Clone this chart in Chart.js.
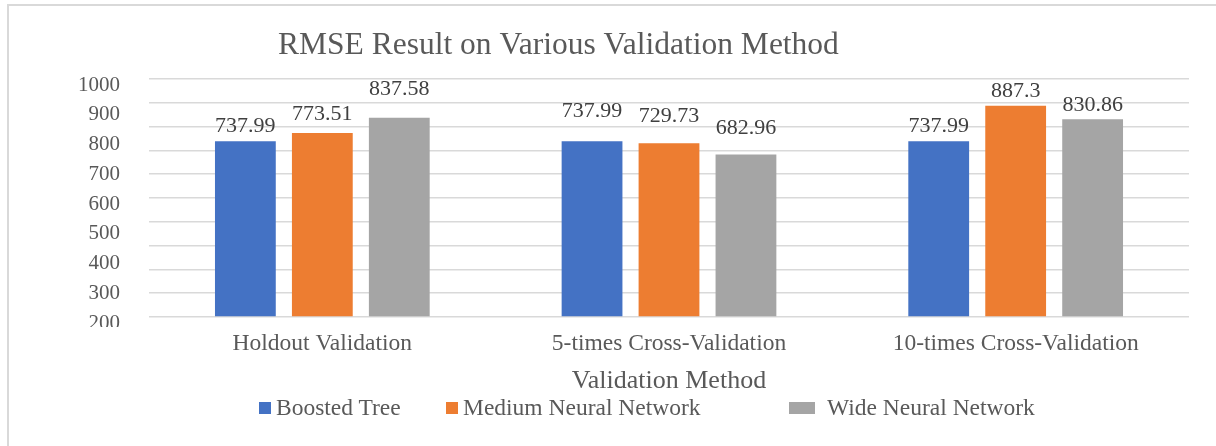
<!DOCTYPE html>
<html>
<head>
<meta charset="utf-8">
<title>RMSE Result on Various Validation Method</title>
<script src="https://cdn.jsdelivr.net/npm/chart.js@4.4.1/dist/chart.umd.min.js"></script>
<style>
    html, body { margin: 0; padding: 0; background: #fff; overflow: hidden; }
    #frame { position: absolute; left: 7px; top: 4px; width: 1400px; height: 600px; border: 2px solid #d9d9d9; }
    #rmse { position: absolute; left: 0; top: 0; }
    #legend { position: absolute; left: 0; top: 394px; width: 1216px; height: 30px; }
    #legend .item { position: absolute; top: 0; height: 30px; line-height: 30px; white-space: nowrap;
        font: 23.5px 'Liberation Serif', 'Times New Roman', serif; color: #595959; }
    #legend .box { display: inline-block; height: 12px; vertical-align: middle; position: relative; top: -2px; }
</style>
</head>
<body>
<div id="frame"></div>
<canvas id="rmse" width="1216" height="446"></canvas>
<div id="legend"></div>
<script>
// chart values
var methods = ['Holdout Validation', '5-times Cross-Validation', '10-times Cross-Validation'];
var boostedTree = [737.99, 737.99, 737.99];
var mediumNeural = [773.51, 729.73, 887.3];
var wideNeural = [837.58, 682.96, 830.86];
var leftAxisLabels = [200, 300, 400, 500, 600, 700, 800, 900, 1000];

// label lift above each bar (px), per dataset
var labelLift = [[9, 24, 9], [13, 21, 9], [23, 20, 8]];
// legend placement, one entry per dataset
var legendLeft = [259, 446, 789];
var legendBoxWidth = [12, 12, 26];
var legendGap = [5, 5, 12];

var SERIF = "'Liberation Serif', 'Times New Roman', serif";
Chart.defaults.color = '#595959';
Chart.defaults.font.family = SERIF;

// values printed above the bars
var valueLabels = {
    id: 'valueLabels',
    afterDatasetsDraw: function(chart) {
        var ctx = chart.ctx;
        ctx.save();
        ctx.font = '22px ' + SERIF;
        ctx.fillStyle = '#404040';
        ctx.textAlign = 'center';
        ctx.textBaseline = 'alphabetic';
        chart.data.datasets.forEach(function(ds, i) {
            chart.getDatasetMeta(i).data.forEach(function(bar, j) {
                ctx.fillText(String(ds.data[j]), bar.x, bar.y - labelLift[i][j]);
            });
        });
        ctx.restore();
    }
};

// chart title sits left of centre in the original
var offsetTitle = {
    id: 'offsetTitle',
    afterDraw: function(chart) {
        var ctx = chart.ctx;
        var area = chart.chartArea;
        ctx.save();
        // the lowest left label is cut off at the plot edge
        ctx.fillStyle = '#fff';
        ctx.fillRect(area.left - 100, area.bottom + 10, 95, 20);
        ctx.font = '31.5px ' + SERIF;
        ctx.fillStyle = '#595959';
        ctx.textAlign = 'left';
        ctx.textBaseline = 'middle';
        ctx.fillText('RMSE Result on Various Validation Method', 278, 46);
        ctx.restore();
    }
};

// legend as html, spacing of the original is uneven
var htmlLegend = {
    id: 'htmlLegend',
    afterUpdate: function(chart) {
        var box = document.getElementById('legend');
        box.innerHTML = '';
        var items = chart.options.plugins.legend.labels.generateLabels(chart);
        items.forEach(function(item, i) {
            var el = document.createElement('div');
            el.className = 'item';
            el.style.left = legendLeft[i] + 'px';
            var sw = document.createElement('span');
            sw.className = 'box';
            sw.style.width = legendBoxWidth[i] + 'px';
            sw.style.background = item.fillStyle;
            sw.style.marginRight = legendGap[i] + 'px';
            el.appendChild(sw);
            el.appendChild(document.createTextNode(item.text));
            box.appendChild(el);
        });
    }
};

new Chart(document.getElementById('rmse'), {
    type: 'bar',
    data: {
        labels: methods,
        datasets: [{
            label: 'Boosted Tree',
            data: boostedTree,
            backgroundColor: '#4472c4'
        }, {
            label: 'Medium Neural Network',
            data: mediumNeural,
            backgroundColor: '#ed7d31'
        }, {
            label: 'Wide Neural Network',
            data: wideNeural,
            backgroundColor: '#a5a5a5'
        }]
    },
    options: {
        responsive: false,
        animation: false,
        barPercentage: 0.79,
        categoryPercentage: 0.666,
        layout: {
            padding: { left: 60, right: 27, top: 79, bottom: 0 }
        },
        plugins: {
            title: { display: false },
            tooltip: { enabled: false },
            legend: { display: false }
        },
        scales: {
            x: {
                grid: { display: false },
                border: { display: false },
                ticks: { padding: 5, font: { size: 23.5 }, color: '#595959' },
                title: {
                    display: true,
                    text: 'Validation Method',
                    color: '#595959',
                    font: { size: 26 },
                    padding: { top: 0, bottom: 49 }
                },
                afterFit: function(scale) { scale.height = 129; }
            },
            y: {
                min: 0,
                max: 1000,
                ticks: { display: false, stepSize: 100 },
                grid: { color: '#d9d9d9', lineWidth: 1.5, drawTicks: false },
                border: { display: false },
                afterFit: function(scale) { scale.width = 0; }
            },
            y2: {
                position: 'left',
                min: leftAxisLabels[0],
                max: leftAxisLabels[leftAxisLabels.length - 1],
                grid: { display: false },
                border: { display: false },
                ticks: {
                    stepSize: 100,
                    padding: 21,
                    labelOffset: 6,
                    autoSkip: false,
                    color: '#595959',
                    font: { size: 21 },
                    callback: function(value) { return String(value); }
                },
                afterFit: function(scale) { scale.width = 89; }
            }
        }
    },
    plugins: [valueLabels, offsetTitle, htmlLegend]
});
</script>
</body>
</html>
